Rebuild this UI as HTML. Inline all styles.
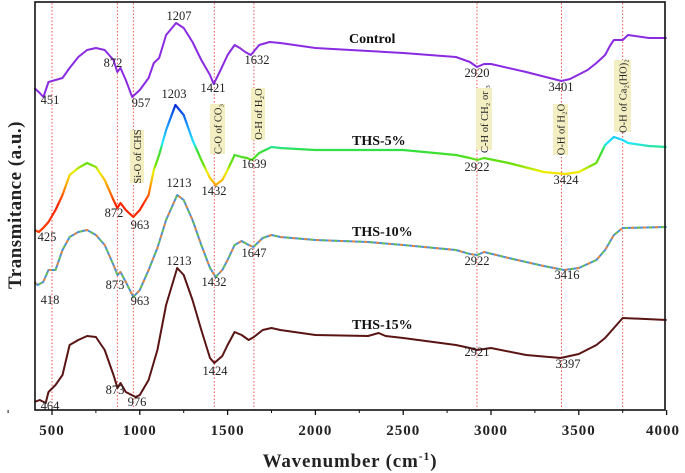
<!DOCTYPE html>
<html><head><meta charset="utf-8">
<style>
html,body{margin:0;padding:0;background:#fff;}
svg{display:block;font-family:"Liberation Serif",serif;}
.pk{font-size:12.5px;fill:#222;text-anchor:middle;}
.tick{font-size:15px;font-weight:bold;text-anchor:middle;fill:#222;letter-spacing:1px;}
.sl{font-size:14px;font-weight:bold;fill:#111;}
.ann{font-size:10.5px;fill:#222;}
</style></head>
<body>
<svg id="chart" width="685" height="473" viewBox="0 0 685 473" xmlns="http://www.w3.org/2000/svg">
<defs>
<linearGradient id="jet" gradientUnits="userSpaceOnUse" x1="0" y1="100" x2="0" y2="235">
<stop offset="0" stop-color="#0010d0"/>
<stop offset="0.18" stop-color="#1890ff"/>
<stop offset="0.32" stop-color="#20e8ff"/>
<stop offset="0.37" stop-color="#30e040"/>
<stop offset="0.48" stop-color="#70e000"/>
<stop offset="0.53" stop-color="#f0f000"/>
<stop offset="0.63" stop-color="#ffa000"/>
<stop offset="0.78" stop-color="#ff2000"/>
<stop offset="1" stop-color="#ff4000"/>
</linearGradient>
</defs>
<g id="grid"></g>
<g id="ann"></g>
<g id="series"></g>
<g id="labels"></g>
<rect x="35" y="2" width="630" height="408" fill="none" stroke="#111" stroke-width="1.6"/>
<g id="axis"></g>
<text x="350" y="467" text-anchor="middle" font-size="19" font-weight="bold" fill="#222" letter-spacing="0.8">Wavenumber (cm<tspan font-size="12" dy="-7">-1</tspan><tspan dy="7">)</tspan></text>
<text transform="translate(21,205) rotate(-90)" text-anchor="middle" font-size="19" font-weight="bold" fill="#222" letter-spacing="0.5">Transmitance (a.u.)</text>
<text class="sl" x="349" y="43">Control</text>
<text class="sl" x="352" y="145">THS-5%</text>
<text class="sl" x="352" y="236">THS-10%</text>
<text class="sl" x="352" y="329">THS-15%</text>
</svg>
<script>
const tickValues = [500,1000,1500,2000,2500,3000,3500,4000];
const refLines = [500,872,963,1424,1650,2920,3401,3750];
const controlWn = [400,430,451,480,520,560,600,650,700,750,800,850,872,890,920,957,1000,1050,1080,1110,1150,1207,1250,1300,1350,1400,1421,1460,1500,1540,1570,1600,1632,1680,1740,1800,2000,2200,2500,2800,2880,2920,2960,3000,3200,3401,3450,3550,3600,3650,3680,3700,3750,3780,3900,4000];
const controlT = [323,318,314,329,331,333,343,354,361,363,361,351,339,343,331,314,321,333,348,353,376,388,383,369,351,336,327,341,356,366,363,359,356,366,369,368,363,361,358,354,349,344,347,347,339,330,332,341,348,356,366,371,371,376,373,373];
const ths5Wn = [400,425,450,480,520,560,600,650,700,750,800,850,872,890,920,963,1000,1050,1080,1110,1150,1203,1250,1300,1350,1400,1432,1470,1500,1540,1580,1610,1639,1680,1750,1800,2000,2500,2800,2880,2922,2960,3100,3300,3424,3500,3600,3650,3700,3750,3780,3900,4000];
const ths5T = [181,179,183,189,201,216,236,243,248,244,231,211,203,208,201,194,201,216,241,256,281,306,296,271,251,233,226,231,241,256,254,253,251,258,264,263,261,261,256,253,251,253,248,239,237,239,248,266,274,271,268,265,264];
const ths10Wn = [400,418,450,480,520,560,600,650,700,750,800,850,873,890,920,963,1000,1050,1100,1150,1213,1250,1300,1350,1400,1432,1470,1500,1540,1580,1620,1647,1700,1750,1800,2000,2300,2500,2800,2880,2922,2960,3100,3300,3416,3500,3600,3650,3700,3750,4000];
const ths10T = [129,126,129,141,141,161,174,179,181,176,166,146,136,139,129,114,121,141,163,191,216,211,191,166,143,134,141,151,166,170,166,164,173,176,174,171,169,166,161,157,156,159,153,145,141,143,151,161,176,183,184];
const ths15Wn = [400,430,464,480,520,560,600,650,700,750,800,850,873,890,920,976,1000,1050,1100,1150,1213,1250,1300,1350,1400,1424,1470,1500,1540,1580,1620,1650,1700,1750,1800,2000,2300,2360,2400,2500,2800,2880,2921,3000,3200,3397,3500,3600,3650,3700,3750,4000];
const ths15T = [9,11,8,19,26,36,66,71,75,74,61,36,23,28,19,14,16,31,61,106,143,136,111,81,53,48,55,66,79,76,71,74,81,83,81,76,75,78,75,73,66,63,61,63,56,53,57,66,73,83,93,91];
const x = w => 52 + (w - 500) * 0.1756;
const y = v => 411 - v;
const NS = 'http://www.w3.org/2000/svg';
function mk(tag, parent, attrs){const e=document.createElementNS(NS,tag);for(const k in attrs)e.setAttribute(k,attrs[k]);parent.appendChild(e);return e;}
const grid=document.getElementById('grid');
refLines.forEach(w=>{
  const l=mk('line',grid,{x1:x(w),x2:x(w),y1:3,y2:410,stroke:'#f04040','stroke-width':0.9,'stroke-dasharray':'1.5,2'});
  
  
});
const axis=document.getElementById('axis');
tickValues.forEach(w=>{
  const t=mk('line',axis,{x1:x(w),x2:x(w),y1:410,y2:415,stroke:'#111','stroke-width':1.3});
  
  
  const m=mk('line',axis,{x1:x(w-250),x2:x(w-250),y1:410,y2:413,stroke:'#111','stroke-width':1});
  
  
  const tx=mk('text',axis,{x:Math.min(x(w),663),y:435,class:'tick'});
  tx.textContent=w;
  
  
});
function pathD(wn,t){return wn.map((w,i)=>(i?'L':'M')+x(w).toFixed(1)+','+y(t[i]).toFixed(1)).join(' ');}
const series=document.getElementById('series');
const s1=mk('path',series,{d:pathD(controlWn,controlT),fill:'none',stroke:'#8a2be2','stroke-width':2,'stroke-linejoin':'round'});


const s2=mk('path',series,{d:pathD(ths5Wn,ths5T),fill:'none',stroke:'url(#jet)','stroke-width':2.2,'stroke-linejoin':'round'});


const s3=mk('path',series,{d:pathD(ths10Wn,ths10T),fill:'none',stroke:'#4a90d9','stroke-width':2,'stroke-linejoin':'round'});


const s3b=mk('path',series,{d:pathD(ths10Wn,ths10T),fill:'none',stroke:'#e8863a','stroke-width':2,'stroke-dasharray':'3,9','stroke-linejoin':'round'});


const s3c=mk('path',series,{d:pathD(ths10Wn,ths10T),fill:'none',stroke:'#6cc04a','stroke-width':2,'stroke-dasharray':'3,9','stroke-dashoffset':6,'stroke-linejoin':'round'});


const s4=mk('path',series,{d:pathD(ths15Wn,ths15T),fill:'none',stroke:'#5a1414','stroke-width':2,'stroke-linejoin':'round'});


const peaks=[
[50,104,'451'],[113,67,'872'],[141,107,'957'],[179,20,'1207'],[213,92,'1421'],[257,64,'1632'],[477,77,'2920'],[561,91,'3401'],
[174,98,'1203'],[47,241,'425'],[114,217,'872'],[140,229,'963'],[214,195,'1432'],[254,168,'1639'],[477,171,'2922'],[566,184,'3424'],
[179,187,'1213'],[50,304,'418'],[115,289,'873'],[140,305,'963'],[214,286,'1432'],[254,257,'1647'],[477,265,'2922'],[567,279,'3416'],
[179,265,'1213'],[50,410,'464'],[115,394,'873'],[137,406,'976'],[215,375,'1424'],[477,356,'2921'],[568,368,'3397']];
const labels=document.getElementById('labels');
peaks.forEach(p=>{const t=mk('text',labels,{x:p[0],y:p[1],class:'pk'});t.textContent=p[2];
  
  });
const anns=[[130,130,14,53,'Si-O of CHS'],[210,104,15,50,'C-O of CO₃'],[251,88,14,52,'O-H of H₂O'],[476,88,16,62,'C-H of CH₂ or ₃'],[553,104,15,51,'O-H of H₂O'],[614,60,17,72,'O-H of Ca₂(HO)₂']];
const ann=document.getElementById('ann');
anns.forEach(a=>{
  const r=mk('rect',ann,{x:a[0],y:a[1],width:a[2],height:a[3],fill:'#f3efc2'});
  
  
  const cx=a[0]+a[2]/2+4, cy=a[1]+a[3]/2;
  const t=mk('text',ann,{class:'ann',transform:`translate(${cx},${cy}) rotate(-90)`,'text-anchor':'middle'});
  t.textContent=a[4];
  
  
});
</script>
</body></html>
